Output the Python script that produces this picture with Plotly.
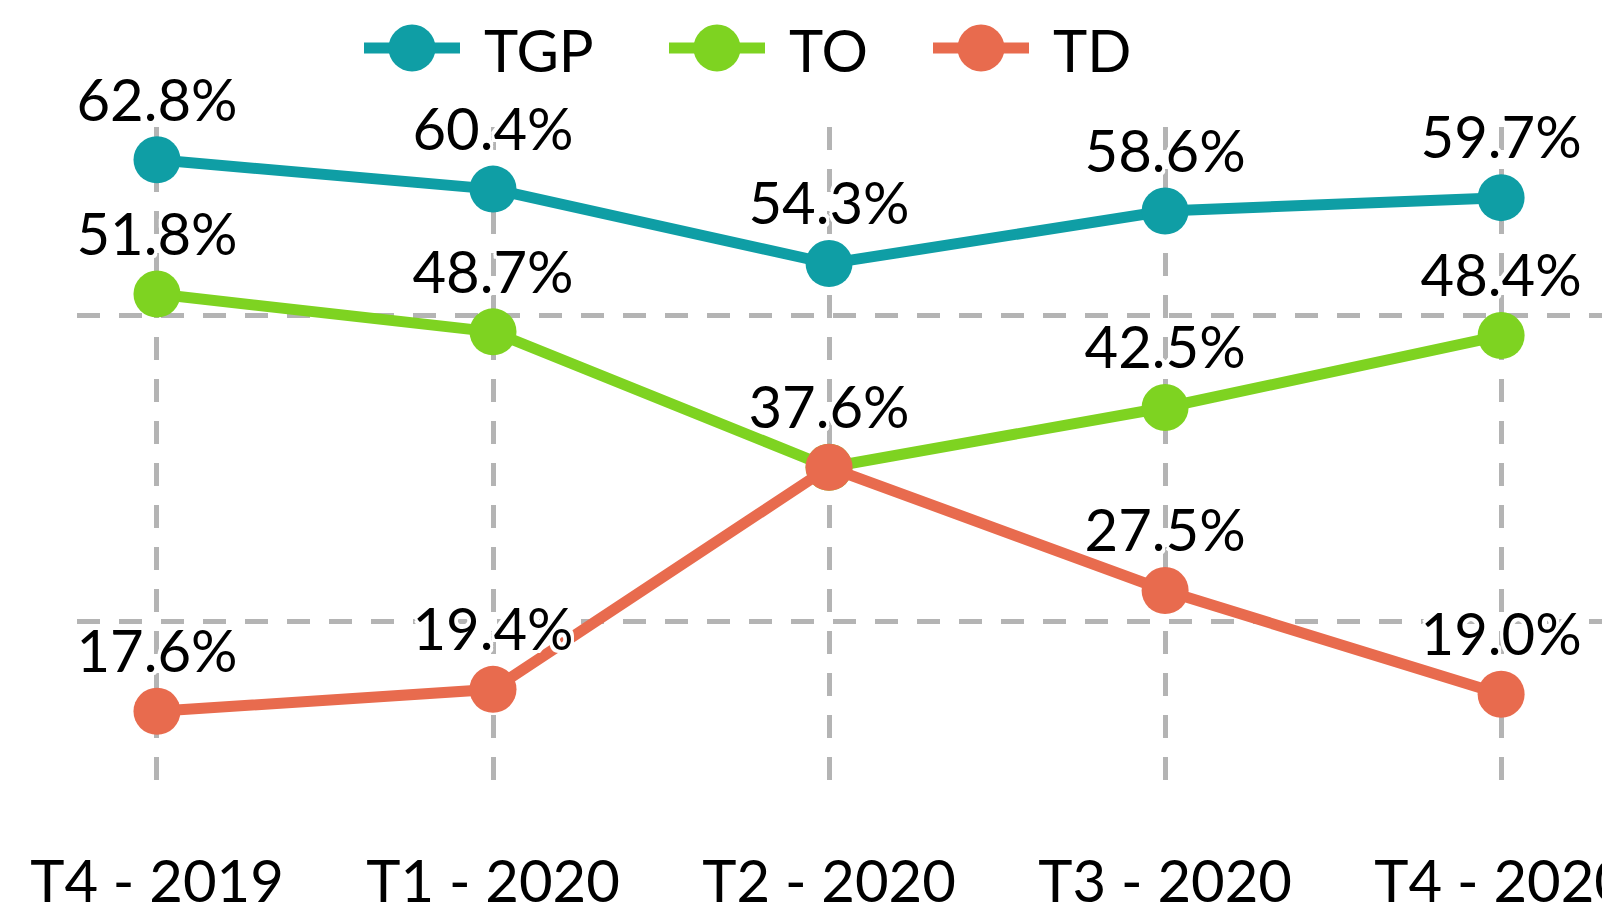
import plotly.graph_objects as go

categories = ["T4 - 2019", "T1 - 2020", "T2 - 2020", "T3 - 2020", "T4 - 2020"]
tgp = [62.8, 60.4, 54.3, 58.6, 59.7]
to = [51.8, 48.7, 37.6, 42.5, 48.4]
td = [17.6, 19.4, 37.6, 27.5, 19.0]

series = [("TGP", tgp, "#0F9EA5"), ("TO", to, "#7ED321"), ("TD", td, "#E86B4E")]

FONT = "Lato, 'Noto Sans', sans-serif"
halo = ", ".join(f"{dx}px {dy}px 0px #ffffff" for dx, dy in
                 [(-3, -3), (3, -3), (-3, 3), (3, 3), (0, 3), (0, -3), (3, 0), (-3, 0)])

# the page body has an 8px default margin: size the figure to the visible window
OFF = 8
W, H = 1610 - OFF, 917 - OFF
ML, MR, MT, MB = 77 - OFF, 0, 127 - OFF, 127
PW, PH = W - ML - MR, H - MT - MB

fig = go.Figure()
for name, vals, color in series:
    fig.add_trace(go.Scatter(
        x=categories, y=vals, name=name, mode="lines+markers",
        line=dict(color=color, width=11),
        marker=dict(color=color, size=47),
        cliponaxis=False, hoverinfo="skip", showlegend=False,
    ))
for name, vals, color in series:
    fig.add_trace(go.Scatter(
        x=categories, y=vals, mode="markers+text", showlegend=False,
        text=[f"{v:.1f}%" for v in vals], textposition="top center",
        textfont=dict(family=FONT, size=58, color="#000000", shadow=halo),
        marker=dict(size=38, opacity=0),
        cliponaxis=False, hoverinfo="skip",
    ))

# legend drawn as layout decoration (line + dot + label), positioned in screen pixels
def px_x(px):
    return (px - OFF - ML) / PW

def px_y(py):
    return (H - MB - (py - OFF)) / PH

legend_start = [364, 669, 933]
legend_y = 48
shapes, annotations = [], []
for (name, vals, color), x0 in zip(series, legend_start):
    shapes.append(dict(type="line", xref="paper", yref="paper",
                       x0=px_x(x0), x1=px_x(x0 + 96), y0=px_y(legend_y), y1=px_y(legend_y),
                       line=dict(color=color, width=11), layer="above"))
    shapes.append(dict(type="circle", xref="paper", yref="paper",
                       xsizemode="pixel", ysizemode="pixel",
                       xanchor=px_x(x0 + 48), yanchor=px_y(legend_y),
                       x0=-23.5, x1=23.5, y0=-23.5, y1=23.5,
                       fillcolor=color, line=dict(width=0), layer="above"))
    annotations.append(dict(text=name, xref="paper", yref="paper",
                            x=px_x(x0 + 118), y=px_y(legend_y + 2),
                            xanchor="left", yanchor="middle", showarrow=False,
                            font=dict(family=FONT, size=58, color="#000000")))

grid = dict(showgrid=True, gridcolor="#B4B4B4", gridwidth=5, griddash="23px,19px",
            zeroline=False, showline=False, automargin=False)

fig.update_layout(
    width=W, height=H,
    margin=dict(l=ML, r=MR, t=MT, b=MB, autoexpand=False),
    paper_bgcolor="white", plot_bgcolor="white",
    font=dict(family=FONT, size=58, color="#000000"),
    showlegend=False,
    shapes=shapes, annotations=annotations,
    xaxis=dict(type="category", range=[-0.238, 4.324], ticks="", ticklabelstandoff=53,
               tickfont=dict(family=FONT, size=58, color="#000000"), **grid),
    yaxis=dict(range=[11.15, 65.49], tickvals=[25, 50], showticklabels=False, **grid),
)

fig.write_html("out.html")
